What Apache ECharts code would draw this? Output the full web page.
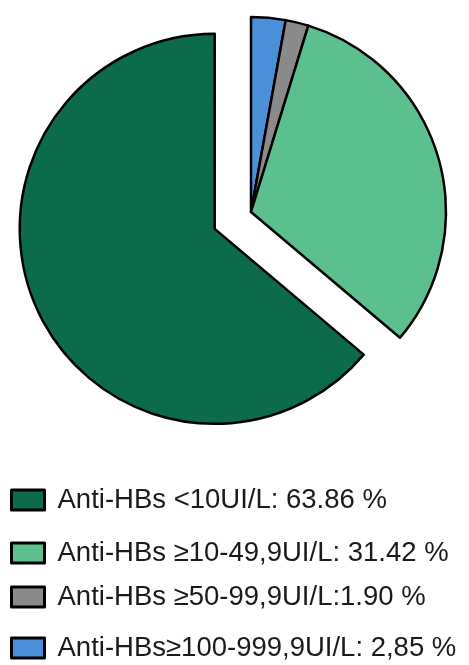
<!DOCTYPE html>
<html><head><meta charset="utf-8">
<script src="https://cdn.jsdelivr.net/npm/echarts@6/dist/echarts.min.js"></script>
<style>html,body{margin:0;padding:0;background:#fff;}#c{width:469px;height:665px;}</style>
</head><body><div id="c"></div>
<script>
// Categories in legend order
const categories = ['Anti-HBs <10UI/L', 'Anti-HBs \u226510-49,9UI/L', 'Anti-HBs \u226550-99,9UI/L', 'Anti-HBs\u2265100-999,9UI/L'];
const values = [63.86, 31.42, 1.90, 2.85];
const legendLabels = ['Anti-HBs <10UI/L: 63.86 %', 'Anti-HBs \u226510-49,9UI/L: 31.42 %', 'Anti-HBs \u226550-99,9UI/L:1.90 %', 'Anti-HBs\u2265100-999,9UI/L: 2,85 %'];
const colors = ['#0c6b49', '#5cbf8e', '#8a8a8a', '#4b8fd8'];
// drawing order (clockwise from 12 o'clock)
const pieOrder = [3, 2, 1, 0];

const chart = echarts.init(document.getElementById('c'), null, {renderer: 'canvas'});
const legendCenters = [500, 553, 597, 648];
const legends = categories.map((c, i) => ({
  data: [{name: c, icon: 'rect'}], orient: 'vertical', left: 10, top: legendCenters[i] - 14, padding: 0,
  itemWidth: 33, itemHeight: 20, selectedMode: false,
  itemStyle: {borderColor: '#000', borderWidth: 3},
  textStyle: {fontFamily: 'Liberation Sans, Arial, sans-serif', fontSize: 27.5, color: '#1a1a1a', padding: [0, 0, 0, 8]},
  formatter: (name) => legendLabels[categories.indexOf(name)]
}));
chart.setOption({
  animation: false,
  legend: legends,
  series: [{
    type: 'pie', center: [251, 212], radius: 195, startAngle: 90, clockwise: true,
    selectedMode: 'single', selectedOffset: 40, silent: true,
    label: {show: false}, labelLine: {show: false},
    itemStyle: {borderColor: '#000', borderWidth: 2.5},
    data: pieOrder.map(i => ({name: categories[i], value: values[i], selected: i === 0,
      itemStyle: {color: colors[i]}}))
  }]
});
</script></body></html>
